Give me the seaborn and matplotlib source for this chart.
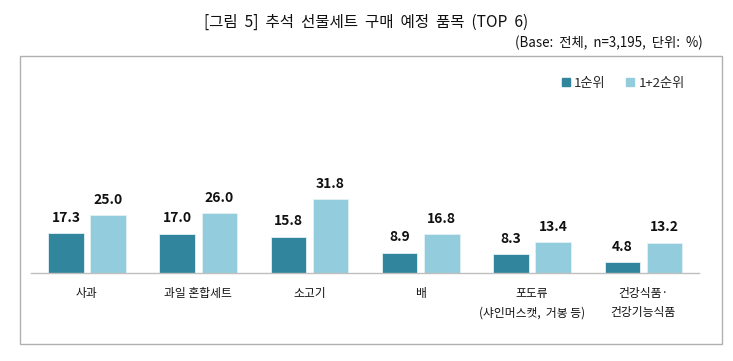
import matplotlib
matplotlib.use("Agg")
import matplotlib.pyplot as plt
import matplotlib.patches as mpatches
import seaborn as sns
import pandas as pd

categories = ["사과", "과일 혼합세트", "소고기", "배", "포도류\n(샤인머스캣,  거봉 등)", "건강식품·\n건강기능식품"]
rank1 = [17.3, 17.0, 15.8, 8.9, 8.3, 4.8]
rank12 = [25.0, 26.0, 31.8, 16.8, 13.4, 13.2]
series = ["1순위", "1+2순위"]
colors = ["#31859c", "#93cddd"]

df = pd.DataFrame({
    "item": categories * 2,
    "value": rank1 + rank12,
    "series": [series[0]] * len(categories) + [series[1]] * len(categories),
})

sns.set_style("white")
plt.rcParams["font.family"] = ["Noto Sans CJK KR", "DejaVu Sans"]

W, H = 733, 361
fig = plt.figure(figsize=(W / 100, H / 100), dpi=100)
ax = fig.add_axes([31.3 / W, 1 - 273.3 / H, (699 - 31.3) / W, 93 / H])

sns.barplot(data=df, x="item", y="value", hue="series", palette=colors,
            saturation=1, width=0.757, gap=0.16, edgecolor="#e3f1f5",
            linewidth=0.6, ax=ax, legend=False)

for cont in ax.containers:
    ax.bar_label(cont, fmt="%.1f", padding=6, fontsize=10, fontweight="bold",
                 color="#111111")

ax.set_ylim(0, 40)
ax.set_xlim(-0.5, len(categories) - 0.5)
ax.set_xlabel("")
ax.set_ylabel("")
ax.set_yticks([])
for s in ["top", "right", "left"]:
    ax.spines[s].set_visible(False)
ax.spines["bottom"].set_color("#bfbfbf")
ax.spines["bottom"].set_linewidth(1)

# category boundary ticks
ax.set_xticks([i - 0.5 for i in range(len(categories) + 1)], minor=True)
ax.tick_params(axis="x", which="minor", length=4, color="#bfbfbf", width=1,
               direction="out")
ax.tick_params(axis="x", which="major", length=0, pad=10, labelsize=8.5,
               labelcolor="#111111")
ax.set_xticks(range(len(categories)))
ax.set_xticklabels(categories, linespacing=1.6, va="top")

handles = [mpatches.Patch(color=c) for c in colors]
fig.legend(handles, series, loc="center left", bbox_to_anchor=(550 / W, 1 - 83 / H),
           ncol=2, frameon=False, handlelength=0.6, handleheight=0.6,
           handletextpad=0.3, columnspacing=1.6, fontsize=9.5)

fig.text(0.5, 1 - 22 / H, "[그림  5]  추석  선물세트  구매  예정  품목  (TOP  6)",
         ha="center", va="center", fontsize=11.2, color="#111111")
fig.text(703 / W, 1 - 43 / H, "(Base:  전체,  n=3,195,  단위:  %)",
         ha="right", va="center", fontsize=9.6, color="#111111")

frame = mpatches.Rectangle((19.5 / W, 1 - 343.5 / H), (721.7 - 19.5) / W,
                           (343.5 - 55.5) / H, transform=fig.transFigure,
                           fill=False, edgecolor="#b0b0b0", linewidth=1)
fig.patches.append(frame)

fig.savefig("out.png", dpi=100)
